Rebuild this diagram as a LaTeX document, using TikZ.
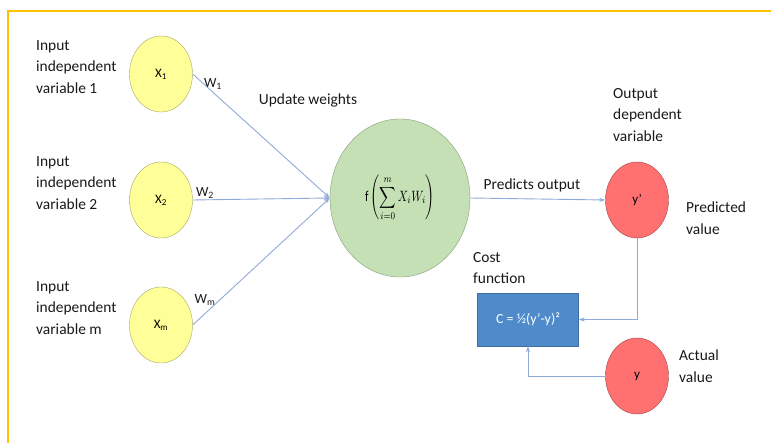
\documentclass[tikz,border=0pt]{standalone}
\usepackage{fontspec}
\usepackage{graphicx}
\setmainfont{Carlito}
\usetikzlibrary{shapes.geometric,arrows.meta}
\definecolor{frameorange}{HTML}{FFC000}
\definecolor{inyellow}{HTML}{FFFF99}
\definecolor{sumgreen}{HTML}{C5E0B4}
\definecolor{outred}{HTML}{FF7171}
\definecolor{costblue}{HTML}{4F8BCB}
\definecolor{linkblue}{HTML}{8FA9D8}
\begin{document}
\begin{tikzpicture}[x=1bp,y=-1bp,
  inp/.style={ellipse,draw=black!35!inyellow,fill=inyellow,minimum width=63bp,minimum height=76bp,inner sep=0pt,font=\fontsize{13}{15}\selectfont},
  outp/.style={inp,draw=black!40!outred,fill=outred},
  lbl/.style={align=left,anchor=west,inner sep=0pt,text=black!90,font=\fontsize{15.5}{21.5}\selectfont},
  wlbl/.style={inner sep=0pt,text=black!90,font=\fontsize{14}{16}\selectfont},
  link/.style={draw=linkblue,line width=0.9pt,-{Stealth[length=6bp,width=4bp]}}]
\useasboundingbox (0,0) rectangle (771,443);
\draw[frameorange,line width=1.5bp] (8,443)--(8,11)--(771,11);
\node[inp] (x1) at (161,74) {X\textsubscript{1}};
\node[inp] (x2) at (161,200) {X\textsubscript{2}};
\node[inp] (xm) at (161,325) {X\textsubscript{m}};
\node[ellipse,draw=black!30!sumgreen,fill=sumgreen,minimum width=140bp,minimum height=158bp,inner sep=0pt] (sum) at (400,198)
  {\scalebox{1.15}[1.5]{$\displaystyle \mathrm{f}\left(\sum_{i=0}^{m} X_i W_i\right)$}};
\node[outp] (yp) at (637,200) {y'};
\node[outp] (yv) at (637,376) {y};
\node[draw=costblue!80!black,fill=costblue,text=white,minimum width=101bp,minimum height=53bp,inner sep=0pt,font=\fontsize{14}{16}\selectfont] (cost) at (528,319.5) {C = ½(y’-y)²};
\node[lbl] (in1) at (36,67) {Input\\independent\\variable 1};
\node[lbl] (in2) at (36,183) {Input\\independent\\variable 2};
\node[lbl] (inm) at (36,308) {Input\\independent\\variable m};
\node[wlbl] (w1) at (213,84) {W\textsubscript{1}};
\node[wlbl] (w2) at (205,193) {W\textsubscript{2}};
\node[wlbl] (wm) at (205,300) {W\textsubscript{m}};
\node[lbl,anchor=center] (upd) at (308,100) {Update weights};
\node[lbl,anchor=center] (pred) at (532,185) {Predicts output};
\node[lbl] (outlbl) at (613,115) {Output\\dependent\\variable};
\node[lbl] (predval) at (686,218) {Predicted\\value};
\node[lbl] (costlbl) at (473,268) {Cost\\function};
\node[lbl] (actval) at (679,366) {Actual\\value};
\draw[link] (x1.east) -- (sum.west);
\draw[link] (x2.east) -- (sum.west);
\draw[link] (xm.east) -- (sum.west);
\draw[link] (sum.east) -- (yp.west);
\draw[link] (yp.south) |- (cost.east);
\draw[link] (yv.west) -| (cost.south);
\end{tikzpicture}
\end{document}
